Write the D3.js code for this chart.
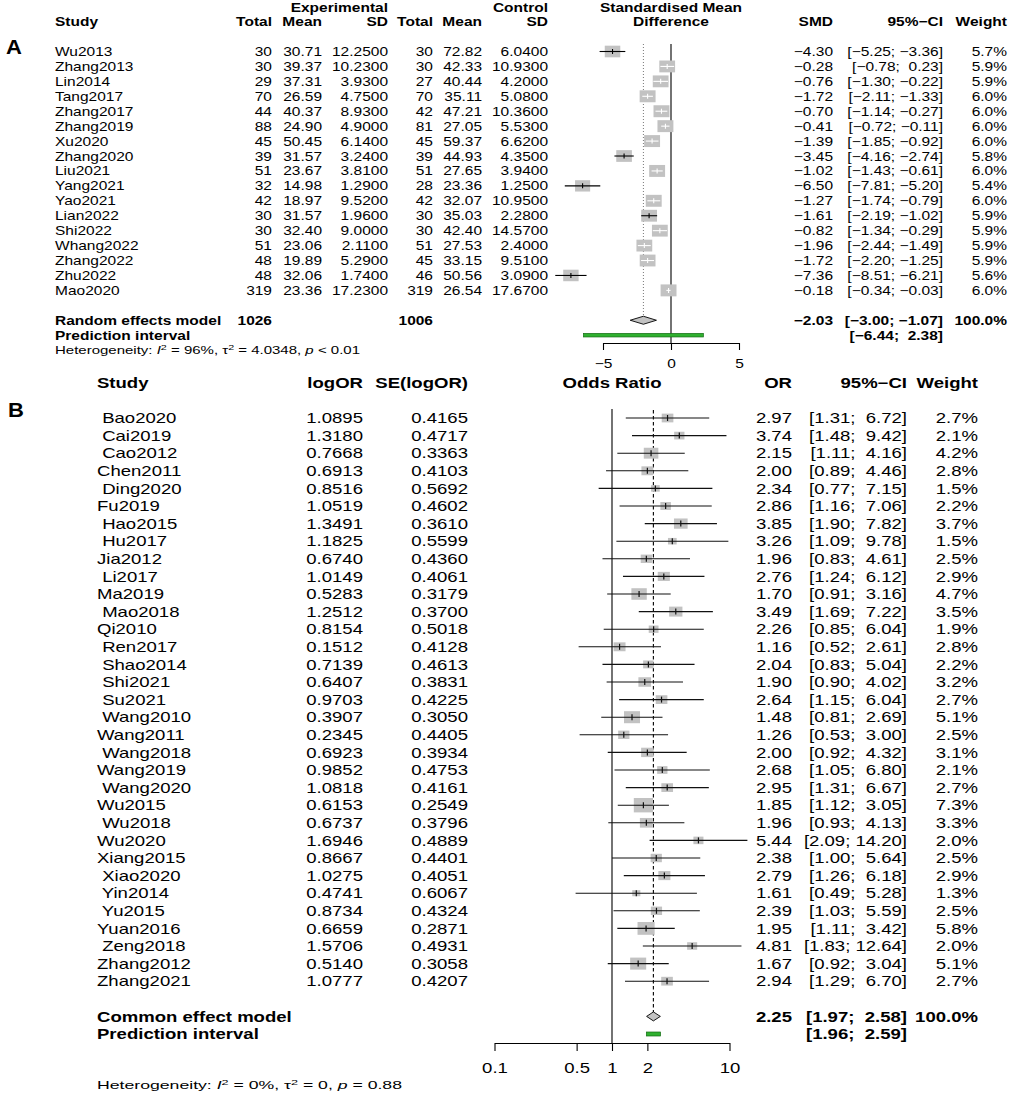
<!DOCTYPE html>
<html>
<head>
<meta charset="utf-8">
<script src="https://d3js.org/d3.v7.min.js"></script>
</head>
<body style="margin:0;background:#fff">
<div id="chart"></div>

<script>
    // ---------- panel A : standardised mean difference ----------
    var studiesA = ["Wu2013", "Zhang2013", "Lin2014", "Tang2017", "Zhang2017", "Zhang2019", "Xu2020", "Zhang2020", "Liu2021",
        "Yang2021", "Yao2021", "Lian2022", "Shi2022", "Whang2022", "Zhang2022", "Zhu2022", "Mao2020"];
    var totalE = [30, 30, 29, 70, 44, 88, 45, 39, 51, 32, 42, 30, 30, 51, 48, 48, 319];
    var meanE = [30.71, 39.37, 37.31, 26.59, 40.37, 24.90, 50.45, 31.57, 23.67, 14.98, 18.97, 31.57, 32.40, 23.06, 19.89, 32.06, 23.36];
    var sdE = [12.25, 10.23, 3.93, 4.75, 8.93, 4.90, 6.14, 3.24, 3.81, 1.29, 9.52, 1.96, 9.00, 2.11, 5.29, 1.74, 17.23];
    var totalC = [30, 30, 27, 70, 42, 81, 45, 39, 51, 28, 42, 30, 30, 51, 45, 46, 319];
    var meanC = [72.82, 42.33, 40.44, 35.11, 47.21, 27.05, 59.37, 44.93, 27.65, 23.36, 32.07, 35.03, 42.40, 27.53, 33.15, 50.56, 26.54];
    var sdC = [6.04, 10.93, 4.20, 5.08, 10.36, 5.53, 6.62, 4.35, 3.94, 1.25, 10.95, 2.28, 14.57, 2.40, 9.51, 3.09, 17.67];
    var smd = [-4.30, -0.28, -0.76, -1.72, -0.70, -0.41, -1.39, -3.45, -1.02, -6.50, -1.27, -1.61, -0.82, -1.96, -1.72, -7.36, -0.18];
    var lowerA = [-5.25, -0.78, -1.30, -2.11, -1.14, -0.72, -1.85, -4.16, -1.43, -7.81, -1.74, -2.19, -1.34, -2.44, -2.20, -8.51, -0.34];
    var upperA = [-3.36, 0.23, -0.22, -1.33, -0.27, -0.11, -0.92, -2.74, -0.61, -5.20, -0.79, -1.02, -0.29, -1.49, -1.25, -6.21, -0.03];
    var weightA = [5.7, 5.9, 5.9, 6.0, 6.0, 6.0, 6.0, 5.8, 6.0, 5.4, 6.0, 5.9, 5.9, 5.9, 5.9, 5.6, 6.0];
    var randomA = {est: -2.03, lo: -3.00, hi: -1.07, nE: 1026, nC: 1006};
    var predictA = [-6.44, 2.38];
    var ticksA = [-5, 0, 5];

    // ---------- panel B : odds ratio ----------
    var studiesB = [" Bao2020", " Cai2019", " Cao2012", "Chen2011", " Ding2020", "Fu2019", " Hao2015", " Hu2017", "Jia2012", " Li2017",
        "Ma2019", " Mao2018", "Qi2010", " Ren2017", " Shao2014", " Shi2021", " Su2021", " Wang2010", "Wang2011", " Wang2018",
        "Wang2019", " Wang2020", "Wu2015", " Wu2018", "Wu2020", "Xiang2015", " Xiao2020", " Yin2014", " Yu2015", "Yuan2016",
        " Zeng2018", "Zhang2012", "Zhang2021"];
    var logOR = [1.0895, 1.3180, 0.7668, 0.6913, 0.8516, 1.0519, 1.3491, 1.1825, 0.6740, 1.0149, 0.5283, 1.2512, 0.8154, 0.1512, 0.7139,
        0.6407, 0.9703, 0.3907, 0.2345, 0.6923, 0.9852, 1.0818, 0.6153, 0.6737, 1.6946, 0.8667, 1.0275, 0.4741, 0.8734, 0.6659,
        1.5706, 0.5140, 1.0777];
    var seLogOR = [0.4165, 0.4717, 0.3363, 0.4103, 0.5692, 0.4602, 0.3610, 0.5599, 0.4360, 0.4061, 0.3179, 0.3700, 0.5018, 0.4128, 0.4613,
        0.3831, 0.4225, 0.3050, 0.4405, 0.3934, 0.4753, 0.4161, 0.2549, 0.3796, 0.4889, 0.4401, 0.4051, 0.6067, 0.4324, 0.2871,
        0.4931, 0.3058, 0.4207];
    var oddsRatio = [2.97, 3.74, 2.15, 2.00, 2.34, 2.86, 3.85, 3.26, 1.96, 2.76, 1.70, 3.49, 2.26, 1.16, 2.04, 1.90, 2.64, 1.48, 1.26, 2.00,
        2.68, 2.95, 1.85, 1.96, 5.44, 2.38, 2.79, 1.61, 2.39, 1.95, 4.81, 1.67, 2.94];
    var lowerB = [1.31, 1.48, 1.11, 0.89, 0.77, 1.16, 1.90, 1.09, 0.83, 1.24, 0.91, 1.69, 0.85, 0.52, 0.83, 0.90, 1.15, 0.81, 0.53, 0.92,
        1.05, 1.31, 1.12, 0.93, 2.09, 1.00, 1.26, 0.49, 1.03, 1.11, 1.83, 0.92, 1.29];
    var upperB = [6.72, 9.42, 4.16, 4.46, 7.15, 7.06, 7.82, 9.78, 4.61, 6.12, 3.16, 7.22, 6.04, 2.61, 5.04, 4.02, 6.04, 2.69, 3.00, 4.32,
        6.80, 6.67, 3.05, 4.13, 14.20, 5.64, 6.18, 5.28, 5.59, 3.42, 12.64, 3.04, 6.70];
    var weightB = [2.7, 2.1, 4.2, 2.8, 1.5, 2.2, 3.7, 1.5, 2.5, 2.9, 4.7, 3.5, 1.9, 2.8, 2.2, 3.2, 2.7, 5.1, 2.5, 3.1,
        2.1, 2.7, 7.3, 3.3, 2.0, 2.5, 2.9, 1.3, 2.5, 5.8, 2.0, 5.1, 2.7];
    var commonB = {est: 2.25, lo: 1.97, hi: 2.58};
    var predictB = [1.96, 2.59];
    var ticksB = [0.1, 0.5, 1, 2, 10];

    var svg = d3.select("#chart").append("svg")
        .attr("width", 1010)
        .attr("height", 1096)
        .style("font-family", "'Liberation Sans', Arial, Helvetica, sans-serif");

    // the original picture is stretched sideways, so text is scaled in x only
    function label(g, x, y, s, o) {
        o = o || {};
        return g.append("text")
            .attr("transform", "translate(" + x + "," + y + ") scale(" + (o.sx || 1) + ",1)")
            .attr("text-anchor", o.anchor || "start")
            .attr("dy", "0.36em")
            .style("font-size", (o.size || 12) + "px")
            .style("font-weight", o.bold ? "bold" : "normal")
            .style("white-space", "pre")
            .text(s);
    }
    function num(v, d) {
        return (v < 0 ? "\u2212" : "") + Math.abs(v).toFixed(d);
    }
    function padL(s, n) {
        while (s.length < n) s = " " + s;
        return s;
    }
    function ci(lo, hi, d, wLo, wHi) {
        return "[" + padL(num(lo, d), wLo) + "; " + padL(num(hi, d), wHi) + "]";
    }
    function heterogeneity(g, x, y, parts, len) {
        var t = g.append("text")
            .attr("x", x).attr("y", y).attr("dy", "0.36em")
            .attr("textLength", len).attr("lengthAdjust", "spacingAndGlyphs")
            .style("font-size", "10.5px");
        parts.forEach(function (p) {
            var ts = t.append("tspan").text(p.t);
            if (p.it) ts.style("font-style", "italic");
            if (p.sup) ts.attr("baseline-shift", "super").style("font-size", "7.5px");
        });
    }

    // ================= panel A =================
    var gA = svg.append("g");
    var sxA = 1.24, fsA = 12.5;
    var rowA = function (i) { return 51.5 + 14.93 * i; };
    var xA = d3.scaleLinear().domain([-5, 5]).range([603, 739]);

    label(gA, 6, 47, "A", {size: 20, bold: true, sx: 1.1});

    var hA = {size: fsA, sx: sxA, bold: true, anchor: "end"};
    label(gA, 388, 7.5, "Experimental", hA);
    label(gA, 548, 7.5, "Control", hA);
    label(gA, 671, 7.5, "Standardised Mean", {size: fsA, sx: sxA, bold: true, anchor: "middle"});
    label(gA, 55, 21.7, "Study", {size: fsA, sx: sxA, bold: true});
    [["Total", 272], ["Mean", 322], ["SD", 388], ["Total", 433], ["Mean", 482], ["SD", 548],
        ["SMD", 833], ["95%\u2212CI", 943], ["Weight", 1007]].forEach(function (h) {
        label(gA, h[1], 21.7, h[0], hA);
    });
    label(gA, 671, 21.7, "Difference", {size: fsA, sx: sxA, bold: true, anchor: "middle"});

    var cA = {size: fsA, sx: sxA, anchor: "end"};
    studiesA.forEach(function (s, i) {
        var y = rowA(i);
        label(gA, 55, y, s, {size: fsA, sx: sxA});
        label(gA, 272, y, String(totalE[i]), cA);
        label(gA, 322, y, meanE[i].toFixed(2), cA);
        label(gA, 388, y, sdE[i].toFixed(4), cA);
        label(gA, 433, y, String(totalC[i]), cA);
        label(gA, 482, y, meanC[i].toFixed(2), cA);
        label(gA, 548, y, sdC[i].toFixed(4), cA);
        label(gA, 833, y, num(smd[i], 2), cA);
        label(gA, 943, y, ci(lowerA[i], upperA[i], 2, 5, 5), cA);
        label(gA, 1007, y, weightA[i].toFixed(1) + "%", cA);
    });

    var yRandA = rowA(18), yPredA = rowA(19);
    var bA = {size: fsA, sx: sxA, bold: true, anchor: "end"};
    label(gA, 55, yRandA, "Random effects model", {size: fsA, sx: sxA, bold: true});
    label(gA, 272, yRandA, String(randomA.nE), bA);
    label(gA, 433, yRandA, String(randomA.nC), bA);
    label(gA, 833, yRandA, num(randomA.est, 2), bA);
    label(gA, 943, yRandA, ci(randomA.lo, randomA.hi, 2, 5, 5), bA);
    label(gA, 1007, yRandA, "100.0%", bA);
    label(gA, 55, yPredA, "Prediction interval", {size: fsA, sx: sxA, bold: true});
    label(gA, 943, yPredA, ci(predictA[0], predictA[1], 2, 5, 5), bA);

    heterogeneity(gA, 55, 350, [
        {t: "Heterogeneity: "}, {t: "I", it: true}, {t: "2", sup: true}, {t: " = 96%, \u03c4"}, {t: "2", sup: true},
        {t: " = 4.0348, "}, {t: "p", it: true}, {t: " < 0.01"}], 305);

    // reference lines
    var axisYA = 343;
    gA.append("line").attr("x1", xA(0)).attr("x2", xA(0)).attr("y1", 44).attr("y2", axisYA)
        .attr("stroke", "#000").attr("stroke-width", 1.1);
    gA.append("line").attr("x1", xA(randomA.est)).attr("x2", xA(randomA.est)).attr("y1", 44).attr("y2", yRandA - 4)
        .attr("stroke", "#777").attr("stroke-width", 1).attr("stroke-dasharray", "1,2");

    // studies
    studiesA.forEach(function (s, i) {
        var y = rowA(i);
        var w = 6.5 * Math.sqrt(weightA[i]), h = w * 0.75;
        var cx = xA(smd[i]);
        var inside = (xA(upperA[i]) - xA(lowerA[i])) < w;
        gA.append("rect").attr("x", cx - w / 2).attr("y", y - h / 2).attr("width", w).attr("height", h)
            .attr("fill", "#c2c2c2");
        var col = inside ? "#fff" : "#000";
        gA.append("line").attr("x1", xA(lowerA[i])).attr("x2", xA(upperA[i])).attr("y1", y).attr("y2", y)
            .attr("stroke", col).attr("stroke-width", 1.1);
        gA.append("line").attr("x1", cx).attr("x2", cx).attr("y1", y - 2.5).attr("y2", y + 2.5)
            .attr("stroke", col).attr("stroke-width", 1.1);
    });

    gA.append("path")
        .attr("d", "M" + xA(randomA.lo) + "," + yRandA + "L" + xA(randomA.est) + "," + (yRandA - 4) +
            "L" + xA(randomA.hi) + "," + yRandA + "L" + xA(randomA.est) + "," + (yRandA + 4) + "Z")
        .attr("fill", "#c2c2c2").attr("stroke", "#000").attr("stroke-width", 0.9);
    gA.append("rect").attr("x", xA(predictA[0])).attr("y", yPredA - 1.8)
        .attr("width", xA(predictA[1]) - xA(predictA[0])).attr("height", 3.6)
        .attr("fill", "#2fb02f").attr("stroke", "#146b14").attr("stroke-width", 0.7);

    var axA = gA.append("g").attr("transform", "translate(0," + axisYA + ")")
        .call(d3.axisBottom(xA).tickValues(ticksA).tickSizeInner(7).tickSizeOuter(0));
    axA.select(".domain").attr("stroke-width", 1.1);
    axA.selectAll(".tick line").attr("stroke-width", 1.1);
    axA.selectAll(".tick text").attr("y", 21).attr("dy", "0.36em")
        .attr("transform", "scale(" + sxA + ",1)")
        .style("font-size", fsA + "px").style("font-family", "'Liberation Sans', Arial, sans-serif");

    // ================= panel B =================
    var gB = svg.append("g");
    var sxB = 1.28, fsB = 14.5;
    var rowB = function (i) { return 418 + 17.6 * i; };
    var xB = d3.scaleLog().domain([0.1, 10]).range([494.5, 729.5]);

    label(gB, 8, 410, "B", {size: 20, bold: true, sx: 1.1});

    var hB = {size: fsB, sx: sxB, bold: true, anchor: "end"};
    var yHeadB = 383;
    label(gB, 97, yHeadB, "Study", {size: fsB, sx: sxB, bold: true});
    label(gB, 363, yHeadB, "logOR", hB);
    label(gB, 468, yHeadB, "SE(logOR)", hB);
    label(gB, 612, yHeadB, "Odds Ratio", {size: fsB, sx: sxB, bold: true, anchor: "middle"});
    label(gB, 792, yHeadB, "OR", hB);
    label(gB, 907, yHeadB, "95%\u2212CI", hB);
    label(gB, 978, yHeadB, "Weight", hB);

    var cB = {size: fsB, sx: sxB, anchor: "end"};
    studiesB.forEach(function (s, i) {
        var y = rowB(i);
        label(gB, 97, y, s, {size: fsB, sx: sxB});
        label(gB, 363, y, logOR[i].toFixed(4), cB);
        label(gB, 468, y, seLogOR[i].toFixed(4), cB);
        label(gB, 792, y, oddsRatio[i].toFixed(2), cB);
        label(gB, 907, y, ci(lowerB[i], upperB[i], 2, 4, 5), cB);
        label(gB, 978, y, weightB[i].toFixed(1) + "%", cB);
    });

    var yComB = rowB(34), yPredB = rowB(35);
    var bB = {size: fsB, sx: sxB, bold: true, anchor: "end"};
    label(gB, 97, yComB, "Common effect model", {size: fsB, sx: sxB, bold: true});
    label(gB, 792, yComB, commonB.est.toFixed(2), bB);
    label(gB, 907, yComB, ci(commonB.lo, commonB.hi, 2, 4, 5), bB);
    label(gB, 978, yComB, "100.0%", bB);
    label(gB, 97, yPredB, "Prediction interval", {size: fsB, sx: sxB, bold: true});
    label(gB, 907, yPredB, ci(predictB[0], predictB[1], 2, 4, 5), bB);

    heterogeneity(gB, 97, 1085, [
        {t: "Heterogeneity: "}, {t: "I", it: true}, {t: "2", sup: true}, {t: " = 0%, \u03c4"}, {t: "2", sup: true},
        {t: " = 0, "}, {t: "p", it: true}, {t: " = 0.88"}], 305);

    var axisYB = 1043;
    gB.append("line").attr("x1", xB(1)).attr("x2", xB(1)).attr("y1", 409).attr("y2", axisYB)
        .attr("stroke", "#000").attr("stroke-width", 1.1);
    gB.append("line").attr("x1", xB(commonB.est)).attr("x2", xB(commonB.est)).attr("y1", 410).attr("y2", yComB - 4)
        .attr("stroke", "#000").attr("stroke-width", 1.1).attr("stroke-dasharray", "3.5,2.5");

    studiesB.forEach(function (s, i) {
        var y = rowB(i);
        var w = 7.1 * Math.sqrt(weightB[i]), h = w * 0.75;
        var cx = xB(oddsRatio[i]);
        gB.append("rect").attr("x", cx - w / 2).attr("y", y - h / 2).attr("width", w).attr("height", h)
            .attr("fill", "#c2c2c2");
        gB.append("line").attr("x1", xB(lowerB[i])).attr("x2", xB(upperB[i])).attr("y1", y).attr("y2", y)
            .attr("stroke", "#111").attr("stroke-width", 1.1);
        gB.append("line").attr("x1", cx).attr("x2", cx).attr("y1", y - 3).attr("y2", y + 3)
            .attr("stroke", "#111").attr("stroke-width", 1.2);
    });

    gB.append("path")
        .attr("d", "M" + xB(commonB.lo) + "," + yComB + "L" + xB(commonB.est) + "," + (yComB - 4.5) +
            "L" + xB(commonB.hi) + "," + yComB + "L" + xB(commonB.est) + "," + (yComB + 4.5) + "Z")
        .attr("fill", "#c2c2c2").attr("stroke", "#000").attr("stroke-width", 0.9);
    gB.append("rect").attr("x", xB(predictB[0])).attr("y", yPredB - 2)
        .attr("width", xB(predictB[1]) - xB(predictB[0])).attr("height", 4)
        .attr("fill", "#2fb02f").attr("stroke", "#146b14").attr("stroke-width", 0.7);

    var axB = gB.append("g").attr("transform", "translate(0," + axisYB + ")")
        .call(d3.axisBottom(xB).tickValues(ticksB).tickFormat(function (d) { return String(d); })
            .tickSizeInner(8).tickSizeOuter(0));
    axB.select(".domain").attr("stroke-width", 1.1);
    axB.selectAll(".tick line").attr("stroke-width", 1.1);
    axB.selectAll(".tick text").attr("y", 25).attr("dy", "0.36em")
        .attr("transform", "scale(" + sxB + ",1)")
        .style("font-size", fsB + "px").style("font-family", "'Liberation Sans', Arial, sans-serif");
</script>

</body>
</html>
